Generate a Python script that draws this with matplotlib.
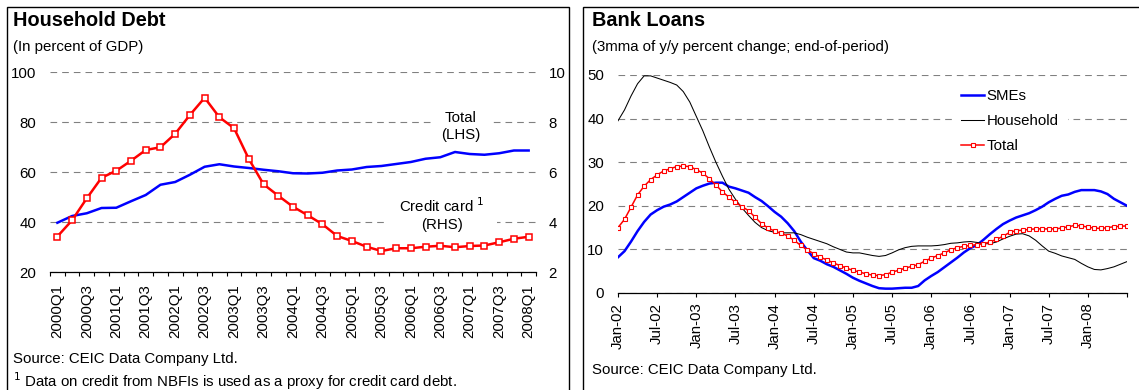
import matplotlib
matplotlib.use("Agg")
import matplotlib.pyplot as plt
from matplotlib.patches import Rectangle
from matplotlib.ticker import FixedLocator, NullFormatter

plt.rcParams["font.family"] = ["Liberation Sans", "DejaVu Sans"]

# ---- data: household debt (quarterly, 2000Q1..2008Q1) ----
quarters = [f"{y}Q{q}" for y in range(2000, 2009) for q in (1, 2, 3, 4)][:33]
total_lhs = [39.7, 42.4, 43.5, 45.6, 45.7, 48.3, 50.8, 54.9, 56.0, 58.9, 62.1,
             63.1, 62.2, 61.6, 60.9, 60.3, 59.5, 59.4, 59.7, 60.6, 61.0, 62.0,
             62.4, 63.2, 64.0, 65.3, 65.9, 68.0, 67.2, 66.9, 67.5, 68.6, 68.6]
credit_rhs = [3.42, 4.07, 4.95, 5.77, 6.05, 6.45, 6.88, 6.99, 7.53, 8.28, 8.97,
              8.19, 7.75, 6.52, 5.51, 5.05, 4.61, 4.27, 3.91, 3.44, 3.24, 3.01,
              2.84, 2.95, 2.95, 3.01, 3.05, 2.99, 3.04, 3.06, 3.19, 3.33, 3.41]

# ---- data: bank loans (monthly, Jan-02..Jul-08) ----
month_labels = ["Jan-02", "Jul-02", "Jan-03", "Jul-03", "Jan-04", "Jul-04",
                "Jan-05", "Jul-05", "Jan-06", "Jul-06", "Jan-07", "Jul-07",
                "Jan-08", ""]
smes = [8.2, 9.6, 11.8, 14.2, 16.3, 18.0, 19.0, 19.8, 20.3, 21.0, 22.0, 23.0,
        24.0, 24.6, 25.1, 25.3, 25.3, 24.4, 24.0, 23.5, 23.0, 22.0, 21.1, 19.9,
        18.6, 17.5, 16.0, 14.2, 11.8, 9.8, 8.0, 7.4, 6.6, 6.0, 5.2, 4.4,
        3.5, 2.8, 2.2, 1.6, 1.1, 1.0, 1.0, 1.1, 1.2, 1.2, 1.6, 2.9,
        3.9, 4.8, 5.9, 7.0, 8.1, 9.3, 10.3, 11.0, 12.2, 13.5, 14.7, 15.8,
        16.6, 17.3, 17.8, 18.3, 19.0, 19.8, 20.8, 21.6, 22.3, 22.6, 23.2, 23.6,
        23.6, 23.6, 23.3, 22.7, 21.6, 20.8, 20.0]
household = [39.5, 42.0, 45.2, 48.0, 49.8, 49.8, 49.3, 48.8, 48.3, 47.7, 46.2, 43.8,
             40.5, 37.2, 33.5, 30.0, 26.8, 23.8, 21.5, 19.5, 17.8, 16.2, 15.0, 14.3,
             13.9, 13.8, 13.8, 13.8, 13.4, 12.8, 12.3, 11.8, 11.3, 10.6, 10.0, 9.4,
             9.2, 9.2, 8.9, 8.6, 8.4, 8.6, 9.2, 9.9, 10.4, 10.7, 10.8, 10.8,
             10.8, 10.9, 11.1, 11.4, 11.5, 11.7, 11.8, 11.6, 11.3, 11.3, 11.7, 12.4,
             13.0, 13.5, 13.6, 13.1, 12.1, 10.8, 9.6, 9.1, 8.5, 8.1, 7.7, 6.8,
             6.0, 5.4, 5.3, 5.6, 6.0, 6.6, 7.2]
total_loans = [15.0, 16.9, 19.7, 22.5, 24.5, 26.0, 27.1, 28.0, 28.5, 29.0, 29.1, 29.0,
               28.3, 27.5, 26.2, 24.8, 23.2, 22.0, 20.8, 19.8, 18.9, 17.4, 15.9, 14.9,
               14.2, 13.7, 13.1, 12.1, 10.9, 9.9, 9.0, 8.2, 7.6, 6.9, 6.3, 5.7,
               5.2, 4.8, 4.4, 4.1, 4.0, 4.2, 4.8, 5.2, 5.7, 6.1, 6.5, 7.3,
               8.0, 8.6, 9.2, 9.9, 10.4, 10.7, 10.9, 11.1, 11.3, 11.7, 12.3, 13.0,
               13.9, 14.3, 14.4, 14.6, 14.7, 14.7, 14.7, 14.7, 14.9, 15.2, 15.5, 15.4,
               15.1, 14.9, 14.8, 15.0, 15.2, 15.3, 15.4]

W, H = 1139, 390
FS = 10.8
fig = plt.figure(figsize=(W / 100, H / 100), dpi=100)


def fx(px):
    return px / W


def fy(py):
    return 1 - py / H


GRID = dict(color="#808080", linestyle=(0, (6, 4.5)), linewidth=0.8)

# panel frames
fig.add_artist(Rectangle((fx(7), fy(420)), fx(562), 413 / H, transform=fig.transFigure,
                         fill=False, ec="black", lw=1.0))
fig.add_artist(Rectangle((fx(583), fy(420)), fx(600), 413 / H, transform=fig.transFigure,
                         fill=False, ec="black", lw=1.0))

# ================= left: Household Debt =================
ax = fig.add_axes([fx(50), fy(272), fx(486), 200 / H])
xq = list(range(len(quarters)))
ax.plot(xq, total_lhs, color="#0000FF", lw=1.8, zorder=3)
ax.set_xlim(-0.5, len(quarters) - 0.5)
ax.set_ylim(20, 100)
ax.set_yticks([20, 40, 60, 80, 100])
ax.yaxis.grid(True, **GRID)
ax.set_axisbelow(True)
for s in ("top", "left", "right"):
    ax.spines[s].set_visible(False)
ax.spines["bottom"].set_linewidth(0.9)
ax.set_xticks(xq[::2])
ax.set_xticklabels(quarters[::2], rotation=90, fontsize=FS)
ax.xaxis.set_minor_locator(FixedLocator([i - 0.5 for i in range(len(quarters) + 1)]))
ax.xaxis.set_minor_formatter(NullFormatter())
ax.tick_params(axis="x", which="major", length=0, pad=9)
ax.tick_params(axis="x", which="minor", length=3, width=0.8, direction="out")
ax.tick_params(axis="y", length=0, pad=10, labelsize=FS)

ax2 = ax.twinx()
ax2.plot(xq, credit_rhs, color="#FF0000", lw=1.8, marker="s", ms=5,
         mfc="white", mec="#FF0000", mew=1.1, zorder=3)
ax2.set_ylim(2, 10)
ax2.set_yticks([2, 4, 6, 8, 10])
ax2.tick_params(axis="y", length=0, pad=9, labelsize=FS)
for s in ("top", "left", "right", "bottom"):
    ax2.spines[s].set_visible(False)

ax.text(27.4, 78.3, "Total\n(LHS)", ha="center", va="center", fontsize=FS,
        linespacing=1.3, zorder=2,
        bbox=dict(facecolor="white", edgecolor="none", pad=7))
ax.text(26.1, 43.0, "Credit card $^{1}$\n(RHS)", ha="center", va="center", fontsize=FS,
        linespacing=1.3, zorder=2,
        bbox=dict(facecolor="white", edgecolor="none", pad=9))

fig.text(fx(13), fy(21), "Household Debt", fontsize=14.3, fontweight="bold", va="center")
fig.text(fx(13), fy(47), "(In percent of GDP)", fontsize=FS, va="center")
fig.text(fx(13), fy(359), "Source: CEIC Data Company Ltd.", fontsize=FS, va="center")
fig.text(fx(13), fy(381), "$^{1}$ Data on credit from NBFIs is used as a proxy for credit card debt.",
         fontsize=FS, va="center")

# ================= right: Bank Loans =================
bx = fig.add_axes([fx(618), fy(293), fx(509), 218 / H])
xm = list(range(len(smes)))
bx.plot(xm, smes, color="#0000FF", lw=1.8, label="SMEs", zorder=3)
bx.plot(xm, household, color="black", lw=0.75, label="Household", zorder=3)
bx.plot(xm, total_loans, color="#FF0000", lw=1.1, marker="s", ms=3,
        mfc="white", mec="#FF0000", mew=0.8, label="Total", zorder=3)
bx.set_xlim(0, len(smes) - 1)
bx.set_ylim(0, 50)
bx.set_yticks([0, 10, 20, 30, 40, 50])
bx.yaxis.grid(True, **GRID)
bx.set_axisbelow(True)
for s in ("top", "left", "right"):
    bx.spines[s].set_visible(False)
bx.spines["bottom"].set_linewidth(0.9)
bx.set_xticks(list(range(0, len(smes), 6)))
bx.set_xticklabels(month_labels, rotation=90, fontsize=FS)
bx.tick_params(axis="x", length=3, width=0.8, direction="out", pad=4)
bx.tick_params(axis="y", length=0, pad=10, labelsize=FS)

leg = bx.legend(loc="center", bbox_to_anchor=(fx(1010), fy(121)),
                bbox_transform=fig.transFigure, fontsize=FS, frameon=True,
                handlelength=1.5, handletextpad=0.2, labelspacing=0.72,
                borderpad=0.6, borderaxespad=0)
leg.get_frame().set_facecolor("white")
leg.get_frame().set_edgecolor("none")
leg.get_frame().set_alpha(1)

fig.text(fx(592), fy(21), "Bank Loans", fontsize=14.3, fontweight="bold", va="center")
fig.text(fx(592), fy(47), "(3mma of y/y percent change; end-of-period)", fontsize=FS, va="center")
fig.text(fx(592), fy(370), "Source: CEIC Data Company Ltd.", fontsize=FS, va="center")

fig.savefig("out.png", dpi=100)
